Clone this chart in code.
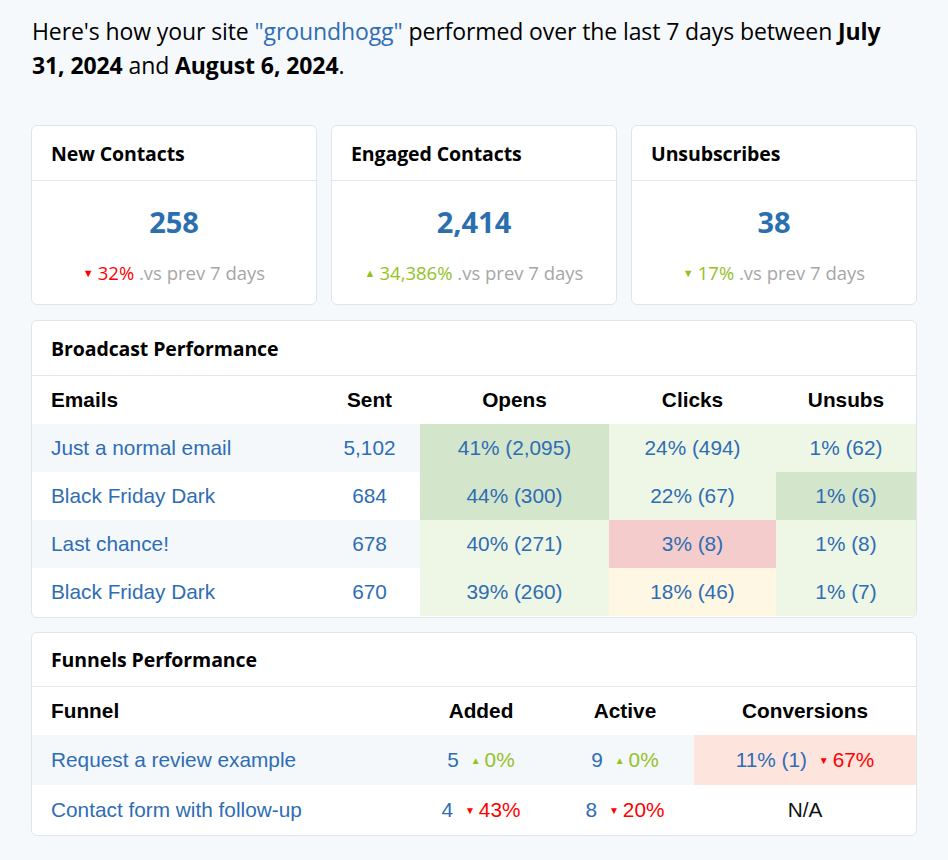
<!DOCTYPE html>
<html><head><meta charset="utf-8">
<script src="https://cdn.jsdelivr.net/npm/chart.js@4"></script>
<style>
html,body{margin:0;padding:0;background:#f6f9fc;}
body{width:948px;height:860px;overflow:hidden;font-family:"Open Sans","Noto Sans",sans-serif;color:#000;}
#intro{position:absolute;left:32px;top:14px;width:900px;font-size:23px;line-height:34px;letter-spacing:-0.1px;}
#intro a{color:#2e6db4;text-decoration:none;}
.card{position:absolute;background:#fff;border:1px solid #e1e5ea;border-radius:6px;box-sizing:border-box;overflow:hidden;}
.card h3{margin:0;height:54px;line-height:55px;padding-left:19px;font-size:19.5px;font-weight:700;border-bottom:1px solid #e3e7eb;letter-spacing:-0.1px;}
#fc h3{height:53px;line-height:54px;}
.big{text-align:center;font-size:29px;font-weight:700;color:#2a6fae;margin-top:23px;line-height:36px;}
.cmp{text-align:center;font-size:18.5px;color:#a6a6a6;margin-top:21px;line-height:24px;}
.up{color:#95c11f}.down{color:#ff0000}
.tri{font-size:10px;vertical-align:3px;margin-right:4px;}
.cmp .tri{font-size:11px;}
table{border-collapse:collapse;font-family:"Liberation Sans",Arial,sans-serif;font-size:20.8px;table-layout:fixed;}
th{font-weight:700;height:48px;padding:0;color:#000;}
td{height:48px;padding:0;color:#2e6db4;text-align:center;}
th.l,td.l{text-align:left;padding-left:19px;}
tr.s td{background:#f4f8fb;}
.na{color:#111;}
</style></head><body>
<div id="intro"></div>
<div id="cards"></div>
<div class="card" id="bc" style="left:31px;top:320px;width:886px;height:298px;"><h3>Broadcast Performance</h3><table id="bt"></table></div>
<div class="card" id="fc" style="left:31px;top:632px;width:886px;height:204px;"><h3>Funnels Performance</h3><table id="ft"></table></div>
<canvas id="c" width="1" height="1" style="position:absolute;left:0;top:0;width:1px;height:1px;"></canvas>
<script>
const siteName = "groundhogg";
const dateStart = "July 31, 2024";
const dateEnd = "August 6, 2024";

const statTitles = ["New Contacts", "Engaged Contacts", "Unsubscribes"];
const statValues = ["258", "2,414", "38"];
const statChange = ["32%", "34,386%", "17%"];
const statDir = ["down", "up", "down"];
const statGood = [false, true, true];

const bcHeaders = ["Emails", "Sent", "Opens", "Clicks", "Unsubs"];
const bcEmails = ["Just a normal email", "Black Friday Dark", "Last chance!", "Black Friday Dark"];
const bcSent = ["5,102", "684", "678", "670"];
const bcOpens = ["41% (2,095)", "44% (300)", "40% (271)", "39% (260)"];
const bcClicks = ["24% (494)", "22% (67)", "3% (8)", "18% (46)"];
const bcUnsubs = ["1% (62)", "1% (6)", "1% (8)", "1% (7)"];
const bcOpensLvl = ["best", "best", "good", "good"];
const bcClicksLvl = ["good", "good", "bad", "warn"];
const bcUnsubsLvl = ["good", "best", "good", "good"];

const fnHeaders = ["Funnel", "Added", "Active", "Conversions"];
const fnNames = ["Request a review example", "Contact form with follow-up"];
const fnAdded = ["5", "4"];
const fnAddedChg = ["0%", "43%"];
const fnAddedDir = ["up", "down"];
const fnActive = ["9", "8"];
const fnActiveChg = ["0%", "20%"];
const fnActiveDir = ["up", "down"];
const fnConv = ["11% (1)", "N/A"];
const fnConvChg = ["67%", ""];
const fnConvDir = ["down", ""];

const lvlColor = {best:"#d3e5cb", good:"#eef6e5", bad:"#f4cccc", warn:"#fdf7e3", conv:"#fde4dc"};

document.getElementById('intro').innerHTML =
 `Here's how your site <a>"${siteName}"</a> performed over the last 7 days between <b>${dateStart.split(' ')[0]}</b><br><b>${dateStart.split(' ').slice(1).join(' ')}</b> and <b>${dateEnd}</b>.`;

const cardsEl = document.getElementById('cards');
statTitles.forEach((t,i)=>{
  const d = document.createElement('div');
  d.className='card';
  d.style.cssText=`left:${31+i*300}px;top:125px;width:286px;height:180px;`;
  const cls = statGood[i] ? 'up' : 'down';
  const tri = statDir[i]==='up' ? '▲' : '▼';
  d.innerHTML = `<h3>${t}</h3><div class="big">${statValues[i]}</div><div class="cmp"><span class="${cls}"><span class="tri">${tri}</span>${statChange[i]}</span> .vs prev 7 days</div>`;
  cardsEl.appendChild(d);
});

function chg(val, dir){
  if(!dir) return '';
  const tri = dir==='up' ? '▲' : '▼';
  return ` <span class="${dir}" style="margin-left:6px"><span class="tri">${tri}</span>${val}</span>`;
}

const bt = document.getElementById('bt');
const bw = [287,101,189,167,140];
let h = '<colgroup>'+bw.map(w=>`<col style="width:${w}px">`).join('')+'</colgroup>';
h += '<tr>'+bcHeaders.map((x,i)=>`<th class="${i===0?'l':''}">${x}</th>`).join('')+'</tr>';
bcEmails.forEach((e,i)=>{
  h += `<tr class="${i%2===0?'s':''}"><td class="l">${e}</td><td>${bcSent[i]}</td>`+
   `<td style="background:${lvlColor[bcOpensLvl[i]]}">${bcOpens[i]}</td>`+
   `<td style="background:${lvlColor[bcClicksLvl[i]]}">${bcClicks[i]}</td>`+
   `<td style="background:${lvlColor[bcUnsubsLvl[i]]}">${bcUnsubs[i]}</td></tr>`;
});
bt.style.width='884px';
bt.innerHTML = h;

const ft = document.getElementById('ft');
const fw = [374,150,138,222];
let f = '<colgroup>'+fw.map(w=>`<col style="width:${w}px">`).join('')+'</colgroup>';
f += '<tr>'+fnHeaders.map((x,i)=>`<th class="${i===0?'l':''}">${x}</th>`).join('')+'</tr>';
fnNames.forEach((n,i)=>{
  const convStyle = fnConvDir[i] ? `background:${lvlColor.conv}` : '';
  const convCls = fnConvDir[i] ? '' : 'na';
  f += `<tr class="${i%2===0?'s':''}" style="height:50px"><td class="l" style="height:50px">${n}</td>`+
   `<td>${fnAdded[i]}${chg(fnAddedChg[i],fnAddedDir[i])}</td>`+
   `<td>${fnActive[i]}${chg(fnActiveChg[i],fnActiveDir[i])}</td>`+
   `<td class="${convCls}" style="${convStyle}">${fnConv[i]}${chg(fnConvChg[i],fnConvDir[i])}</td></tr>`;
});
ft.style.width='884px';
ft.innerHTML = f;
</script>
</body></html>
